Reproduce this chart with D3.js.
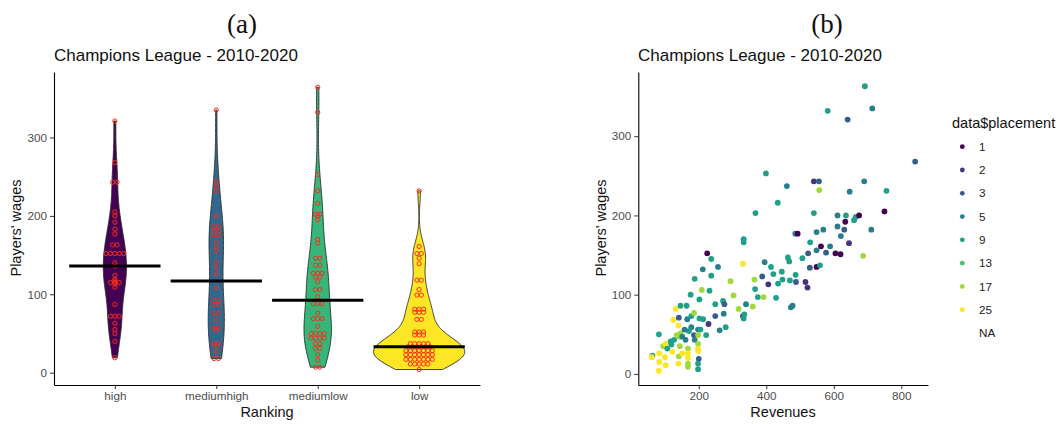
<!DOCTYPE html>
<html>
<head>
<meta charset="utf-8">
<script src="https://cdn.jsdelivr.net/npm/d3@7"></script>
<style>
  body { margin: 0; background: #fff; }
  svg { display: block; }
  text { font-family: "Liberation Sans", Arial, Helvetica, sans-serif; }
</style>
</head>
<body>
<svg id="chart" width="1058" height="424"></svg>
<script>
// ---------- data ----------
const rankings = ["high", "mediumhigh", "mediumlow", "low"];

const wagesHigh = [321, 268, 243, 243, 205, 200, 192, 183, 177, 163, 163, 152, 152, 152, 152, 152,
  140, 136, 124, 119, 117, 115, 115, 115, 113, 109, 87, 72, 72, 72, 63, 55, 50, 40, 19];
const wagesMediumHigh = [335, 244, 238, 232, 200, 186, 186, 180, 180, 175, 175, 167, 160, 155, 141,
  134, 126, 108, 92, 92, 87, 87, 76, 76, 67, 57, 57, 54, 37, 37, 34, 27, 18, 18];
const wagesMediumLow = [364, 332, 253, 232, 216, 202, 202, 200, 195, 170, 165, 146, 146, 137, 137,
  127, 127, 127, 122, 122, 116, 106, 106, 97, 88, 88, 88, 76, 69, 69, 69, 59, 50, 50, 50, 50,
  44, 44, 44, 44, 37, 37, 31, 31, 23, 16, 7, 7];
const wagesLow = [232, 161, 152, 152, 146, 139, 118, 118, 106, 99, 99, 81, 81, 81, 77, 77, 77, 68, 68,
  52, 52, 52, 48, 48, 48, 37, 37, 37, 37, 37, 33, 33, 33, 33, 33, 33, 28, 28, 28, 28, 28, 28, 28,
  23, 23, 23, 23, 23, 23, 23, 17, 17, 17, 17, 17, 17, 17, 11, 11, 11, 11, 11, 4];
const groupWages = [wagesHigh, wagesMediumHigh, wagesMediumLow, wagesLow];
const violinFills = ["#440154", "#31688E", "#35B779", "#FDE725"];

// scatter: one entry per team-season
const revenues = [692, 714, 582, 641, 841, 399, 541, 556, 461, 690, 557, 647, 756, 434, 368, 541, 611, 636,
  665, 675, 750, 634, 660, 611, 569, 631, 711, 486, 493, 549, 621, 645, 333, 333, 530, 562, 589, 549,
  577, 605, 620, 687, 225, 237, 331, 212, 257, 395, 414, 464, 468, 507, 524, 549, 559, 529, 237, 446,
  421, 388, 365, 448, 470, 487, 488, 516, 522, 406, 435, 294, 367, 303, 375, 392, 429, 232, 209, 249,
  272, 276, 340, 318, 360, 478, 473, 331, 249, 274, 333, 335,
  82, 63, 61, 83, 83, 82, 100, 102, 95, 102, 107, 117, 122, 125, 132, 141, 146, 140, 146, 143, 144,
  141, 140, 151, 161, 164, 166, 168, 168, 168, 168, 168, 176, 178, 178, 186, 188, 186, 188, 198, 198,
  198, 198, 198, 200, 198, 198, 202, 202, 213, 222, 229, 205, 262, 280, 171, 158, 127, 135, 151, 119];
const wages = [363, 335, 332, 321, 268, 253, 243, 243, 237, 243, 232, 230, 231, 216, 203, 203, 200, 200,
  198, 200, 205, 192, 194, 186, 182, 182, 182, 177, 177, 179, 174, 165, 170, 166, 166, 161, 161, 156,
  153, 152, 151, 149, 152, 145, 139, 132, 135, 141, 135, 147, 142, 146, 152, 135, 137, 134, 124, 129,
  126, 123, 119, 119, 118, 125, 116, 116, 109, 113, 114, 117, 107, 99, 97, 97, 96, 105, 106, 88,
  92, 88, 88, 82, 85, 86, 84, 73, 73, 76, 70, 75,
  50, 23, 21, 26, 15, 4, 21, 11, 35, 38, 32, 41, 28, 68, 82, 71, 86, 61, 51, 47, 35,
  22, 13, 26, 43, 86, 69, 32, 26, 20, 13, 9, 100, 73, 59, 49, 120, 77, 43, 56, 49,
  38, 32, 29, 19, 13, 6, 94, 70, 69, 49, 63, 56, 55, 59, 54, 56, 43, 49, 47, 37];
const placement = [9, 5, 9, 3, 3, 9, 2, 3, 5, 5, 17, 5, 9, 9, 9, 9, 5, 9,
  9, 1, 1, 1, 9, 5, 5, 3, 5, 5, 1, 5, 5, 2, 9, 9, 9, 1, 5, 5,
  3, 1, 1, 17, 1, 9, 25, 5, 5, 5, 9, 9, 9, 9, 3, 1, 9, 3, 9, 9,
  9, 3, 17, 9, 9, 9, 3, 2, 2, 2, 9, 17, 9, 17, 9, 17, 9, 9, 17, 9,
  9, 3, 5, 17, 17, 5, 5, 2, 3, 5, 9, 9,
  9, 9, 25, 25, 25, 25, 25, 25, 17, 25, 9, 9, 25, 25, 25, 3, 9, 25, 17, 17, 17,
  17, 25, 25, 5, 9, 5, 17, 25, 25, 17, 17, 9, 9, 5, 3, 9, 17, 5, 5, 17,
  17, 25, 25, 3, 9, 9, 9, 9, 9, 9, 2, 9, 5, 9, 9, 5, 9, 17, 5, 9];

const placementLevels = [1, 2, 3, 5, 9, 13, 17, 25];
const placementColors = ["#440154", "#46337E", "#365C8D", "#277F8E", "#1FA187", "#4AC16D", "#9FDA3A", "#FDE725"];
const legendLabels = ["1", "2", "3", "5", "9", "13", "17", "25", "NA"];
const wageTicks = [0, 100, 200, 300];
const revenueTicks = [200, 400, 600, 800];

// ---------- drawing ----------
const svg = d3.select("#chart");
const tickColor = "#4D4D4D";

function styleAxis(g) {
  g.select(".domain").attr("stroke", "#000").attr("stroke-width", 1.1);
  g.selectAll(".tick line").attr("stroke", "#333").attr("stroke-width", 1);
  g.selectAll(".tick text").attr("fill", tickColor).style("font-size", "11.7px")
    .style("font-family", "'Liberation Sans', Arial, sans-serif");
}

// panel labels
svg.append("text").attr("x", 242).attr("y", 33).attr("text-anchor", "middle")
  .style("font-family", "'Liberation Serif', 'Times New Roman', serif").style("font-size", "27px")
  .attr("fill", "#111").text("(a)");
svg.append("text").attr("x", 827).attr("y", 33).attr("text-anchor", "middle")
  .style("font-family", "'Liberation Serif', 'Times New Roman', serif").style("font-size", "27px")
  .attr("fill", "#111").text("(b)");

// ===== panel (a): violins =====
const xA = d3.scalePoint().domain(rankings).range([54, 480]).padding(0.6);
const yA = d3.scaleLinear().domain([-15.7, 383.5]).range([385, 72]);
const step = xA.step();

svg.append("text").attr("x", 54).attr("y", 61).style("font-size", "17px").attr("fill", "#111")
  .text("Champions League - 2010-2020");

// kernel density (gaussian, nrd0 bandwidth), trimmed to the data range,
// weighted by group size so violin widths follow the counts
function bwNrd0(v) {
  const s = v.slice().sort(d3.ascending);
  const sd = d3.deviation(s);
  const iqr = d3.quantileSorted(s, 0.75) - d3.quantileSorted(s, 0.25);
  let lo = Math.min(sd, iqr / 1.34);
  if (!(lo > 0)) lo = sd || 1;
  return 0.9 * lo * Math.pow(s.length, -0.2);
}
function density(v) {
  const bw = bwNrd0(v);
  const lo = d3.min(v), hi = d3.max(v);
  const pts = d3.range(0, 201).map(i => lo + (hi - lo) * i / 200);
  return pts.map(y => [y, v.length * d3.mean(v, x => Math.exp(-0.5 * ((y - x) / bw) ** 2)) / (bw * Math.sqrt(2 * Math.PI))]);
}
const densities = groupWages.map(density);
const maxD = d3.max(densities, d => d3.max(d, p => p[1]));
const halfW = d3.scaleLinear().domain([0, maxD]).range([0, step * 0.45]);

const gA = svg.append("g");
rankings.forEach((r, i) => {
  const cx = xA(r);
  const area = d3.area()
    .y(d => yA(d[0]))
    .x0(d => cx - halfW(d[1]))
    .x1(d => cx + halfW(d[1]))
    .curve(d3.curveBasis);
  gA.append("path").datum(densities[i]).attr("d", area)
    .attr("fill", violinFills[i]).attr("stroke", "#2b2b2b").attr("stroke-width", 0.9);

  // stacked dots: equal values share a row, centred on the violin
  const counts = d3.rollup(groupWages[i], v => v.length, d => d);
  const dots = [];
  counts.forEach((k, val) => {
    for (let j = 0; j < k; j++) dots.push({ val, off: (j - (k - 1) / 2) * 4.4 });
  });
  gA.selectAll(null).data(dots).join("circle")
    .attr("cx", d => cx + d.off).attr("cy", d => yA(d.val)).attr("r", 2.1)
    .attr("fill", "none").attr("stroke", "#FF2A1A").attr("stroke-width", 1);

  // median bar
  const med = d3.median(groupWages[i]);
  gA.append("line").attr("x1", cx - step * 0.45).attr("x2", cx + step * 0.45)
    .attr("y1", yA(med)).attr("y2", yA(med)).attr("stroke", "#000").attr("stroke-width", 3);
});

svg.append("g").attr("transform", "translate(54,0)")
  .call(d3.axisLeft(yA).tickValues(wageTicks).tickSize(4).tickPadding(3).tickSizeOuter(0))
  .call(styleAxis);
svg.append("g").attr("transform", "translate(0,385)")
  .call(d3.axisBottom(xA).tickSize(4).tickPadding(3).tickSizeOuter(0))
  .call(styleAxis);

svg.append("text").attr("transform", "translate(21,228) rotate(-90)").attr("text-anchor", "middle")
  .style("font-size", "14.5px").attr("fill", "#111").text("Players' wages");
svg.append("text").attr("x", 267).attr("y", 417).attr("text-anchor", "middle")
  .style("font-size", "14.5px").attr("fill", "#111").text("Ranking");

// ===== panel (b): scatter =====
const xB = d3.scaleLinear().domain([21, 879]).range([638.3, 928]);
const yB = d3.scaleLinear().domain([-14, 381]).range([385, 72]);
const color = d3.scaleOrdinal(placementLevels, placementColors);

svg.append("text").attr("x", 638).attr("y", 61).style("font-size", "17px").attr("fill", "#111")
  .text("Champions League - 2010-2020");

svg.append("g").selectAll("circle").data(d3.range(revenues.length)).join("circle")
  .attr("cx", i => xB(revenues[i])).attr("cy", i => yB(wages[i])).attr("r", 2.9)
  .attr("fill", i => color(placement[i]));

svg.append("g").attr("transform", "translate(638.3,0)")
  .call(d3.axisLeft(yB).tickValues(wageTicks).tickSize(4).tickPadding(3).tickSizeOuter(0))
  .call(styleAxis);
svg.append("g").attr("transform", "translate(0,385)")
  .call(d3.axisBottom(xB).tickValues(revenueTicks).tickSize(4).tickPadding(3).tickSizeOuter(0))
  .call(styleAxis);

svg.append("text").attr("transform", "translate(606,228) rotate(-90)").attr("text-anchor", "middle")
  .style("font-size", "14.5px").attr("fill", "#111").text("Players' wages");
svg.append("text").attr("x", 783).attr("y", 417).attr("text-anchor", "middle")
  .style("font-size", "14.5px").attr("fill", "#111").text("Revenues");

// legend
const leg = svg.append("g");
leg.append("text").attr("x", 952).attr("y", 128).style("font-size", "14.5px").attr("fill", "#111")
  .text("data$placement");
const legY = d3.scalePoint().domain(legendLabels).range([146.7, 333]);
leg.selectAll("circle").data(placementLevels).join("circle")
  .attr("cx", 962.3).attr("cy", d => legY(String(d))).attr("r", 2.4).attr("fill", d => color(d));
leg.selectAll("text.lab").data(legendLabels).join("text").attr("class", "lab")
  .attr("x", 979).attr("y", d => legY(d)).attr("dy", "0.36em")
  .style("font-size", "11.7px").attr("fill", "#222").text(d => d);
</script>
</body>
</html>
